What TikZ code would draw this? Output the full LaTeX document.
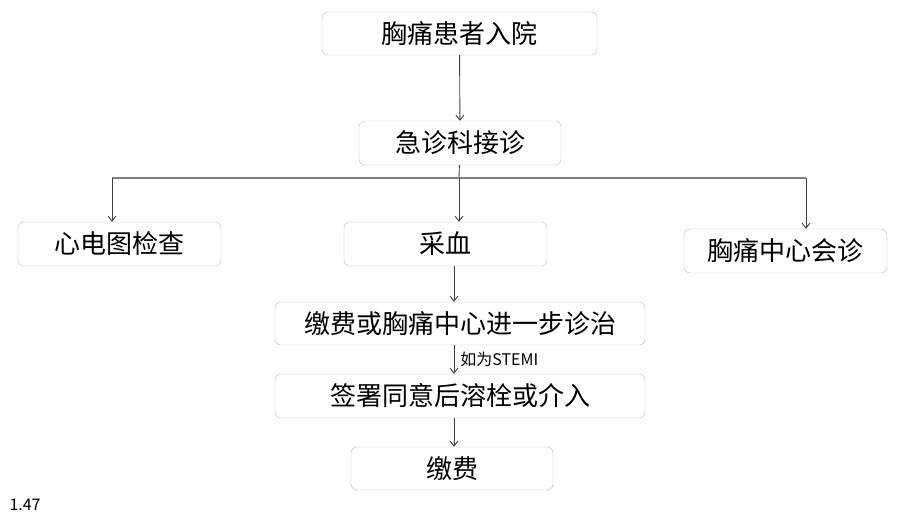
\documentclass[tikz,border=0pt]{standalone}
\usepackage{fontspec}
\setmainfont{Noto Sans CJK SC}
\usetikzlibrary{arrows.meta}
\begin{document}
\begin{tikzpicture}[x=1pt, y=-1pt, >={Straight Barb[length=5pt,width=8pt]},
    box/.style={draw=gray!55, rounded corners=6pt, minimum height=43pt, inner sep=0pt, font=\fontsize{26}{30}\selectfont},
    line/.style={draw=black!75, line width=.9pt}]
\useasboundingbox (0,0) rectangle (920,518);
\node[box, minimum width=275pt](ruyuan) at (459.5,33.5) {胸痛患者入院};
\node[box, minimum width=202pt, minimum height=44pt](jiezhen) at (460,143) {急诊科接诊};
\node[box, minimum width=203pt, minimum height=44pt](xindian) at (119.5,244) {心电图检查};
\node[box, minimum width=203pt, minimum height=44pt](caixue) at (445.5,244) {采血};
\node[box, minimum width=203pt, minimum height=44pt](huizhen) at (785.5,251) {胸痛中心会诊};
\node[box, minimum width=370pt](jiaofei) at (460,323.5) {缴费或胸痛中心进一步诊治};
\node[box, minimum width=370pt, minimum height=44pt](qianshu) at (460,396) {签署同意后溶栓或介入};
\node[box, minimum width=202pt](jiaofeiB) at (452,468.5) {缴费};
\node[anchor=west, font=\fontsize{16}{18}\selectfont](ye) at (6,505) {1.47};

\coordinate (mid) at (459,178);
\coordinate (left) at (112,178);
\coordinate (right) at (806,178);
\coordinate (ax) at (454,0);

\draw[line,->](ruyuan)--(jiezhen);
\draw[line](jiezhen)--(mid);
\draw[draw=gray, line width=1.6pt](left)--(right);
\foreach \a/\b in {left/xindian, mid/caixue, right/huizhen}
{
    \draw[line,->](\a)--(\a |- \b.north);
}
\draw[line,->](caixue.south -| ax)--(jiaofei.north -| ax);
\draw[line,->](jiaofei.south -| ax)--node[right, inner sep=6pt, font=\fontsize{16}{18}\selectfont]{如为STEMI}(qianshu.north -| ax);
\draw[line,->](qianshu.south -| ax)--(jiaofeiB.north -| ax);
\end{tikzpicture}
\end{document}
